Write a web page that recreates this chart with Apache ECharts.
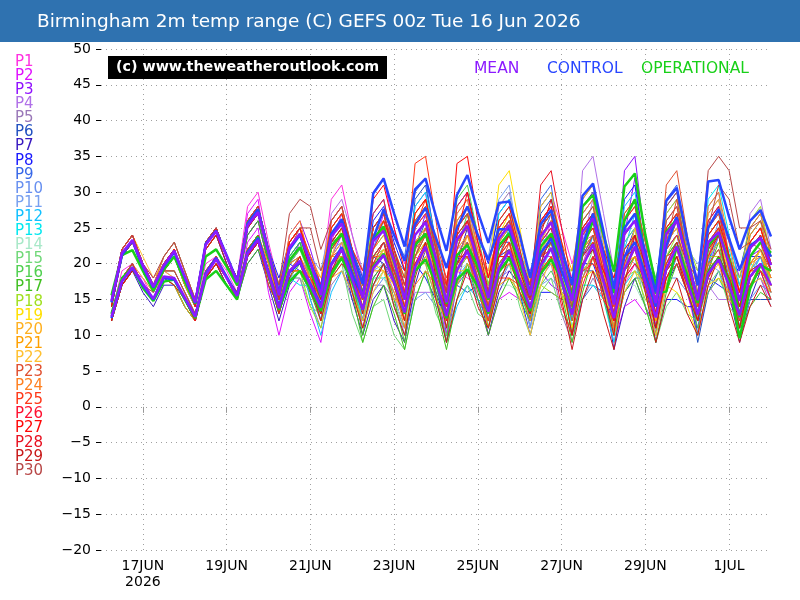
<!DOCTYPE html>
<html>
<head>
<meta charset="utf-8">
<title>Birmingham 2m temp range (C) GEFS</title>
<script src="https://cdn.jsdelivr.net/npm/echarts@6.0.0/dist/echarts.min.js"></script>
<style>
html, body { margin: 0; padding: 0; background: #fff; }
#chart { width: 800px; height: 600px; }
</style>
</head>
<body>
<div id="chart"></div>
<script>
// 6-hourly values, 16 Jun 06z .. 2 Jul 00z (64 steps); Hi = upper line, Lo = lower line of each run
const meanHi = [14.8,21.5,23.3, 19.8,16.8,19.8,21.8, 18.2,14.6,22.6,24.5, 21,17.4,25.3,27.2, 21.5,15.6,22.3,24.2, 20,15.6,23.8,25.6, 20.6,15.2,23.2,24.6, 20.4,15,24,25.8, 20.7,14.6,23.4,25.3, 20.4,15.2,23.5,25.4, 20.8,15.6,23.8,25.8, 20.6,14.8,24.5,26.3, 20.6,14.3,24.2,26, 20.4,14.5,24.2,26, 20.6,14.9,23,24.4, 20,14.8,22.2,23.6, 19.8];
const meanLo = [12.6,17.6,19.5, 17.2,15.1,18.2,18, 15.3,12.6,18.4,20.6, 18,15.5,21.4,23.3, 18.6,13.8,19,20.4, 17,13.9,19.8,22, 17.8,13.6,19.4,21.2, 17.4,13.2,19.5,22.4, 17.6,12.7,19.1,21.8, 17.4,13.3,19.3,21.8, 17.8,13.8,19.7,22.2, 17.6,12.9,19.6,22.7, 17.5,12.4,19.2,22.4, 17.3,12.5,19.3,22.4, 17.5,12.9,18.6,20.6, 17,12.8,18.2,20, 17];
const controlHi = [14.6,21.2,23.2, 19.6,16.7,19.6,21.6, 18.1,14.5,22.8,24.6, 21.2,17.6,25.6,27.6, 21.8,16,22,24, 20.2,16.4,24.2,26.2, 21.5,17.2,29.8,31.9, 27,22.4,30.4,31.9, 26.6,21.8,29.6,32.4, 27.2,22.9,28.5,28.7, 24,18,25.5,27.5, 22,17,29.5,31.2, 24.5,16.5,25,27, 21.5,16,28.8,30.6, 23.5,17,31.5,31.7, 26.5,22,26,27.5, 23.8];
const controlLo = [12.4,17.5,19.4, 17,15,18,17.8, 15.2,12.6,18.6,20.8, 18.2,15.6,21.6,23.6, 18.8,14,18.8,20.2, 17.2,14.3,20,22.3, 18.5,15.5,23.5,27.6, 24,20.4,25.5,27.8, 23.6,19.4,25,28, 24,20.5,24.8,24.8, 21,16,21.5,23.5, 19,15,22.5,27, 21.5,14.5,21,23, 18.5,14,22.5,26.5, 20.5,15,25,27.6, 23.5,19.2,22.5,23.6, 21];
const operHi = [15.6,21.2,21.9, 19,16.2,19.2,21, 17.6,14.4,21,22, 19.6,17,25.6,27.5, 21,15.8,20.5,22.3, 19,15.5,22.5,24.2, 20,15.6,23.5,25.2, 20.2,15,22.6,24.2, 19.8,14.4,21.2,22.6, 19.5,15,22.5,24.3, 20,15.6,22.4,24.2, 20.5,15.2,28,29.6, 24,18.9,30.8,32.6, 24,17,24.5,26.2, 21,14.5,22.5,24.3, 20.5,12.5,21,23, 21.5];
const operLo = [13,18,19.5, 16.6,14.8,17.5,17.8, 15,12.4,17.8,19, 17,15,21.6,23.8, 18.4,13.6,17.5,19, 16.4,13.4,18.6,20.8, 17.4,13.6,19.6,21.4, 17.6,13,19,20.6, 17.2,12.4,17.8,19.2, 16.8,13,18.8,20.8, 17.2,13.4,18.6,20.6, 17.8,13,22,26, 21,15.9,26,29, 21,15.9,16.1,22.5, 18.5,12.8,18.8,20.8, 17.5,9.6,16.5,19.8, 19];

const p1Hi = [15,22,24, 20,17,21,23, 19,15,23,25, 21,18,28,30, 23,17,23,25, 21,17,29,31, 24,18,27,29, 21,14,25,27, 22,18,20,22, 20,19,24,26, 20,15,28,30, 25,20,26,28, 20,13,22,24, 20,16,25,27, 19,12,20,22, 19,16,23,25, 20];
const p1Lo = [13,19,20, 18,15,19,19, 16,13,20,21, 19,16,24,26, 20,15,20,21, 18,15,23,27, 21,16,22,25, 18,12,19,23, 19,16,19,18, 17,17,21,22, 17,13,21,26, 22,18,23,24, 17,11,17,20, 17,14,20,23, 16,10,16,18, 16,14,19,21, 17];
const p2Hi = [14,21,23, 20,18,20,22, 18,14,23,25, 21,17,27,29, 20,13,21,23, 17,12,26,28, 21,16,30,32, 25,20,23,25, 19,15,25,27, 19,13,19,21, 19,19,24,26, 20,15,27,29, 20,12,18,20, 17,16,26,28, 22,18,23,25, 19,14,21,23, 19];
const p2Lo = [12,18,19, 18,16,19,18, 15,12,19,21, 18,15,23,25, 16,10,16,18, 13,9,18,23, 17,13,22,27, 21,17,21,20, 15,12,19,22, 15,10,15,16, 15,16,21,21, 16,12,20,24, 16,9,14,15, 13,13,20,23, 18,15,20,20, 15,11,17,18, 15];
const p3Hi = [15,22,24, 20,17,20,22, 18,15,22,24, 21,18,26,28, 22,15,24,26, 22,17,25,27, 20,12,21,23, 19,15,28,30, 20,10,24,26, 20,14,21,23, 21,19,19,20, 18,16,25,27, 21,14,33,35, 23,11,22,24, 18,12,25,27, 23,18,23,25, 20];
const p3Lo = [13,18,20, 17,15,18,18, 15,13,18,20, 18,16,22,24, 20,14,20,23, 20,16,21,24, 18,11,17,20, 17,14,22,27, 18,9,17,23, 18,13,18,20, 19,18,19,17, 16,15,21,24, 19,13,24,32, 21,10,17,21, 16,11,19,24, 21,17,21,22, 18];
const p4Hi = [14,21,23, 20,17,19,21, 17,14,23,25, 21,17,25,27, 21,15,22,24, 19,15,27,29, 24,19,24,26, 19,12,20,22, 19,17,27,29, 21,13,23,25, 20,16,26,28, 21,14,33,35, 27,19,24,26, 19,13,27,29, 22,15,19,21, 18,16,27,29, 22];
const p4Lo = [12,18,19, 17,15,18,17, 14,12,18,21, 18,15,21,23, 18,13,18,18, 16,13,21,23, 21,17,21,20, 16,10,16,16, 16,15,22,23, 18,11,18,19, 17,14,21,22, 18,12,23,29, 24,17,21,20, 16,11,20,23, 19,13,17,15, 15,14,21,23, 19];
const p5Hi = [15,21,23, 20,17,20,22, 18,15,22,24, 20,17,26,28, 22,17,23,25, 19,14,21,23, 19,17,19,21, 19,18,25,27, 19,13,22,24, 21,19,28,30, 22,15,22,24, 17,12,20,22, 19,17,26,28, 21,15,23,25, 21,19,27,29, 21,15,20,22, 18];
const p5Lo = [13,18,19, 17,15,18,18, 15,13,18,20, 17,15,21,24, 18,14,19,21, 15,11,17,19, 15,14,17,17, 15,15,21,23, 15,10,17,20, 17,16,23,26, 18,12,18,20, 13,9,15,18, 15,14,21,24, 17,12,18,21, 17,16,22,25, 17,12,17,18, 14];
const p6Hi = [14,22,24, 20,17,20,22, 18,15,23,25, 21,18,25,27, 21,15,22,24, 19,13,24,26, 22,18,23,25, 20,15,29,31, 23,14,19,21, 19,16,25,27, 20,12,27,29, 22,15,22,24, 18,11,21,23, 20,17,28,30, 20,10,22,24, 18,12,18,20, 17];
const p6Lo = [12,18,20, 17,15,18,18, 15,13,19,21, 18,16,21,23, 19,14,19,19, 17,12,19,21, 20,17,21,20, 18,14,22,26, 21,13,17,16, 17,15,21,22, 18,11,20,24, 20,14,19,19, 16,10,16,18, 18,16,23,25, 18,9,16,19, 16,11,15,15, 15];
const p7Hi = [14,21,23, 19,16,19,21, 17,14,22,24, 20,17,24,26, 20,14,20,22, 19,16,22,24, 18,12,18,20, 15,11,23,25, 19,14,26,28, 20,12,20,22, 20,18,23,25, 20,15,28,30, 20,10,19,21, 17,13,21,23, 19,15,26,28, 19,11,20,22, 18];
const p7Lo = [12,17,19, 16,14,17,17, 14,12,18,20, 17,15,20,22, 17,12,17,19, 16,14,19,21, 15,10,15,17, 12,9,17,22, 16,12,20,25, 17,10,16,19, 17,16,20,22, 17,13,21,27, 17,8,14,18, 14,11,17,20, 16,13,20,25, 16,9,15,19, 15];
const p8Hi = [15,22,24, 20,17,20,22, 18,14,23,25, 21,18,25,27, 22,18,23,25, 20,17,25,27, 20,15,26,28, 23,19,22,24, 19,16,28,30, 24,20,27,29, 20,13,20,22, 19,18,24,26, 20,15,29,31, 21,12,19,21, 18,17,21,23, 20,19,25,27, 21];
const p8Lo = [13,18,20, 17,15,18,18, 15,12,18,21, 18,16,21,23, 18,15,20,19, 16,14,20,21, 16,12,20,22, 19,16,20,18, 15,13,21,24, 20,17,23,23, 16,10,16,16, 15,15,20,20, 16,12,21,25, 17,9,15,15, 14,14,18,17, 16,16,21,21, 17];
const p9Hi = [14,21,23, 20,17,20,22, 18,15,22,24, 20,17,26,28, 22,16,22,24, 19,15,23,25, 21,17,25,27, 24,21,30,32, 22,13,21,23, 18,14,24,26, 21,17,29,31, 21,12,19,21, 19,18,24,26, 21,17,29,31, 22,14,23,25, 21,17,22,24, 19];
const p9Lo = [12,17,19, 17,15,18,18, 15,13,18,20, 17,15,21,24, 19,14,19,20, 16,13,19,21, 18,15,21,23, 21,19,25,28, 19,11,17,19, 15,12,19,22, 18,15,23,27, 18,10,15,17, 16,16,21,22, 18,15,23,27, 19,12,18,21, 18,15,19,20, 16];
const p10Hi = [15,22,24, 20,17,21,23, 19,15,23,25, 21,18,26,28, 21,14,21,23, 20,16,24,26, 19,12,20,22, 18,14,24,26, 22,17,28,30, 21,12,22,24, 21,18,25,27, 21,15,29,31, 22,12,23,25, 21,16,20,22, 18,14,28,30, 21,11,19,21, 18];
const p10Lo = [13,18,20, 17,15,19,19, 16,13,19,21, 18,16,22,24, 19,13,18,19, 18,15,20,22, 17,11,16,18, 16,13,19,22, 20,16,23,26, 19,11,17,20, 19,17,22,23, 19,14,22,27, 20,11,18,21, 19,15,18,18, 16,13,21,26, 19,10,15,17, 16];
const p11Hi = [14,21,23, 20,17,20,22, 18,14,23,25, 21,17,25,27, 21,17,23,25, 21,19,26,28, 21,16,23,25, 18,13,19,21, 18,17,24,26, 23,21,29,31, 22,14,21,23, 20,19,27,29, 22,16,26,28, 21,15,24,26, 22,20,22,24, 19,16,24,26, 20];
const p11Lo = [12,17,19, 17,15,18,18, 15,12,18,21, 18,15,21,23, 17,14,19,20, 17,16,22,23, 17,13,19,20, 14,10,15,16, 14,14,20,21, 19,18,24,26, 18,11,17,18, 16,16,22,24, 18,13,20,23, 17,12,19,21, 18,17,20,19, 15,13,19,21, 16];
const p12Hi = [15,22,24, 20,17,20,22, 18,15,22,24, 21,18,26,28, 22,16,22,24, 18,12,20,22, 19,17,27,29, 22,15,24,26, 18,11,18,20, 18,16,26,28, 21,15,23,25, 19,14,25,27, 22,17,28,30, 21,13,22,24, 20,16,25,27, 20,14,22,24, 19];
const p12Lo = [13,18,20, 17,15,18,18, 15,13,18,20, 18,16,22,24, 19,14,19,21, 15,10,16,19, 16,15,22,26, 19,13,19,23, 15,9,14,17, 15,14,21,25, 18,13,19,22, 16,12,19,24, 19,15,22,27, 18,11,17,21, 17,14,20,24, 17,12,18,21, 16];
const p13Hi = [14,21,23, 20,17,19,21, 17,14,23,25, 21,17,25,27, 21,14,21,23, 19,15,25,27, 20,13,22,24, 21,18,28,30, 23,16,25,27, 21,15,27,29, 24,18,28,30, 21,12,21,23, 17,10,23,25, 20,15,26,28, 21,13,29,31, 24,17,23,25, 20];
const p13Lo = [12,17,19, 17,15,18,17, 14,12,18,21, 18,15,21,23, 19,13,18,17, 17,14,20,21, 18,12,18,18, 19,17,23,24, 21,15,21,21, 19,14,21,23, 22,17,23,24, 19,11,17,17, 15,9,17,19, 18,14,21,22, 19,12,21,25, 22,16,20,19, 18];
const p14Hi = [15,22,24, 20,17,20,22, 18,15,22,24, 21,18,26,28, 22,16,22,24, 19,14,23,25, 20,16,21,23, 18,13,25,27, 21,15,23,25, 19,14,20,22, 19,16,25,27, 21,15,26,28, 21,14,20,22, 17,12,24,26, 21,17,23,25, 19,13,21,23, 19];
const p14Lo = [13,18,20, 17,15,18,18, 15,13,18,20, 18,16,22,24, 19,14,19,19, 16,12,18,20, 17,14,18,18, 15,11,19,22, 18,13,19,20, 16,12,17,17, 16,14,20,22, 18,13,20,23, 18,12,17,17, 14,10,18,21, 18,15,20,20, 16,11,17,18, 16];
const p15Hi = [14,21,23, 20,17,20,22, 18,14,23,25, 21,17,25,27, 21,17,20,22, 18,16,22,24, 17,12,17,19, 14,11,21,23, 17,13,19,21, 17,15,22,24, 18,13,20,22, 17,14,24,26, 21,17,23,25, 18,12,18,20, 17,15,21,23, 18,15,22,24, 19];
const p15Lo = [12,17,19, 17,15,18,18, 15,12,18,21, 18,15,21,23, 17,14,18,18, 14,13,18,20, 13,9,14,15, 10,8,15,19, 13,10,15,17, 13,12,18,20, 14,10,16,18, 13,11,18,22, 17,14,19,21, 14,9,14,16, 13,12,17,19, 14,12,18,20, 15];
const p16Hi = [15,22,24, 20,17,21,23, 19,15,22,24, 21,18,26,28, 22,17,23,25, 20,16,24,26, 21,16,24,26, 21,16,26,28, 21,15,29,31, 24,17,23,25, 19,14,21,23, 19,15,23,25, 18,12,27,29, 23,18,25,27, 20,13,20,22, 18,15,24,26, 20];
const p16Lo = [13,18,20, 17,15,19,19, 16,13,18,20, 18,16,22,24, 19,15,20,21, 17,14,20,22, 18,14,20,22, 18,14,21,24, 18,13,22,27, 21,15,20,21, 16,12,17,19, 16,13,19,21, 15,10,19,25, 20,16,21,23, 17,11,16,18, 15,13,19,22, 17];
const p17Hi = [14,21,23, 20,17,19,21, 17,14,23,25, 21,17,24,26, 20,14,21,23, 18,13,23,25, 18,10,18,20, 15,9,20,22, 16,9,21,23, 17,11,19,21, 17,13,24,26, 18,10,22,24, 18,12,19,21, 16,10,21,23, 18,13,24,26, 19,11,17,19, 17];
const p17Lo = [12,17,19, 17,15,18,17, 14,12,18,21, 18,15,20,22, 18,13,18,20, 16,12,18,22, 16,9,14,17, 13,8,15,19, 14,8,15,20, 15,10,15,18, 15,12,19,23, 16,9,16,21, 16,11,16,18, 14,9,16,20, 16,12,19,23, 17,10,14,16, 15];
const p18Hi = [15,22,24, 20,17,20,22, 18,15,22,24, 21,18,26,28, 22,17,22,24, 18,14,24,26, 22,19,25,27, 22,18,23,25, 19,15,24,26, 21,17,25,27, 21,16,19,21, 19,19,26,28, 21,15,22,24, 19,16,27,29, 23,19,24,26, 21,18,26,28, 21];
const p18Lo = [13,18,20, 17,15,18,18, 15,13,18,20, 18,16,22,24, 18,14,19,19, 14,11,18,21, 18,16,21,22, 18,15,20,20, 15,12,19,21, 17,14,20,22, 17,13,17,16, 15,16,22,23, 17,12,18,19, 15,13,21,24, 19,16,21,21, 17,15,21,23, 17];
const p19Hi = [14,21,23, 20,17,20,22, 18,14,23,25, 21,17,25,27, 21,16,23,25, 20,16,25,27, 22,17,23,25, 20,15,27,29, 22,16,23,25, 21,18,31,33, 25,17,24,26, 19,13,23,25, 20,15,25,27, 20,14,20,22, 17,12,22,24, 19,15,23,25, 20];
const p19Lo = [12,17,19, 17,15,18,18, 15,12,18,21, 18,15,21,23, 18,14,19,19, 17,14,20,21, 19,15,20,19, 17,13,21,23, 19,14,19,19, 18,16,24,27, 22,15,20,20, 16,11,18,19, 17,13,20,21, 17,12,17,16, 14,10,17,18, 16,13,19,19, 17];
const p20Hi = [15,22,24, 20,17,20,22, 18,15,22,24, 21,18,26,28, 22,15,22,24, 19,14,21,23, 18,13,24,26, 21,16,26,28, 20,12,22,24, 20,15,26,28, 23,17,28,30, 23,15,25,27, 19,11,21,23, 19,15,23,25, 20,14,27,29, 21,13,20,22, 18];
const p20Lo = [13,18,20, 17,15,18,18, 15,13,18,20, 18,16,22,24, 20,14,19,20, 17,13,18,19, 16,12,19,22, 19,15,21,24, 18,11,17,20, 18,14,21,24, 21,16,23,26, 21,14,20,23, 17,10,16,19, 17,14,19,21, 18,13,21,25, 19,12,17,18, 16];
const p21Hi = [14,21,23, 20,17,19,21, 17,14,23,25, 21,17,25,27, 21,15,23,25, 21,18,24,26, 21,16,22,24, 19,14,24,26, 21,17,26,28, 20,13,21,23, 19,16,25,27, 23,19,29,31, 23,16,24,26, 20,14,25,27, 22,17,23,25, 20,16,25,27, 21];
const p21Lo = [12,17,19, 17,15,18,17, 14,12,18,21, 18,15,21,23, 18,13,19,20, 18,16,21,21, 18,14,19,19, 16,12,19,21, 18,15,21,23, 17,11,17,18, 16,14,20,22, 20,17,24,26, 20,14,20,21, 17,12,19,22, 19,15,20,20, 17,14,20,22, 18];
const p22Hi = [15,22,24, 21,18,20,22, 18,15,22,24, 21,18,26,28, 22,17,22,24, 20,18,26,28, 20,14,20,22, 19,17,23,25, 19,15,25,27, 22,19,24,26, 19,13,22,24, 20,17,22,24, 19,16,26,28, 20,13,23,25, 20,17,21,23, 19,16,23,25, 20];
const p22Lo = [13,18,20, 18,16,19,18, 15,13,18,20, 18,16,22,24, 18,14,19,21, 16,15,21,25, 16,11,16,19, 15,14,19,22, 15,12,19,24, 18,16,21,23, 15,10,17,21, 16,14,19,21, 15,13,20,25, 16,10,17,22, 16,14,18,20, 15,13,19,22, 16];
const p23Hi = [14,21,23, 20,17,20,22, 18,14,23,25, 21,17,25,27, 21,16,23,25, 20,16,23,25, 21,17,25,27, 21,15,27,29, 23,18,23,25, 19,14,25,27, 21,16,26,28, 21,14,23,25, 21,17,25,27, 21,15,31,33, 24,16,24,26, 19,13,22,24, 19];
const p23Lo = [12,17,19, 17,15,18,18, 15,12,18,21, 18,15,21,23, 18,14,19,21, 17,14,19,21, 18,15,21,23, 18,13,21,25, 20,16,20,21, 16,12,19,23, 18,14,21,24, 18,12,18,21, 18,15,21,23, 18,13,23,29, 21,14,20,22, 16,11,17,20, 16];
const p24Hi = [15,22,24, 20,17,21,23, 19,15,22,24, 21,18,26,28, 22,16,24,26, 20,14,25,27, 22,17,24,26, 19,12,22,24, 19,14,27,29, 22,15,23,25, 19,13,24,26, 21,16,27,29, 21,12,24,26, 21,15,25,27, 21,14,28,30, 23,16,24,26, 20];
const p24Lo = [13,18,20, 17,15,19,19, 16,13,18,20, 18,16,22,24, 20,15,20,21, 18,13,20,22, 20,16,21,21, 17,11,17,19, 17,13,21,24, 20,14,19,20, 17,12,19,21, 19,15,22,24, 19,11,18,21, 19,14,20,22, 19,13,21,25, 21,15,20,21, 18];
const p25Hi = [14,21,23, 20,17,20,22, 18,14,23,25, 21,18,26,28, 22,16,23,25, 21,17,26,28, 22,16,25,27, 22,18,34,35, 26,17,25,27, 20,14,22,24, 20,17,26,28, 21,15,24,26, 21,16,27,29, 23,17,26,28, 21,14,25,27, 21,16,23,25, 20];
const p25Lo = [12,17,19, 17,15,18,18, 15,12,18,21, 18,16,22,24, 19,14,19,19, 18,15,21,22, 19,14,20,21, 19,16,25,29, 23,15,21,21, 17,12,18,18, 17,15,21,22, 18,13,19,20, 18,14,21,23, 20,15,21,22, 18,12,19,21, 18,14,19,19, 17];
const p26Hi = [15,22,24, 20,17,20,22, 18,15,23,25, 21,17,25,27, 21,17,22,24, 20,17,24,26, 22,19,27,29, 22,16,25,27, 21,17,28,30, 23,18,25,27, 21,16,23,25, 18,13,23,25, 19,15,26,28, 21,16,22,24, 20,18,26,28, 21,15,21,23, 19];
const p26Lo = [13,18,20, 17,15,18,18, 15,13,19,21, 18,15,21,23, 17,14,19,20, 16,14,20,22, 18,16,22,25, 18,13,20,23, 17,14,22,26, 19,15,21,23, 17,13,19,21, 14,10,17,21, 15,12,20,24, 17,13,18,20, 16,15,21,24, 17,12,17,19, 15];
const p27Hi = [14,21,23, 20,17,20,22, 18,15,22,24, 21,18,26,28, 22,16,23,25, 20,16,25,27, 22,17,29,31, 25,19,27,29, 22,16,34,35, 26,18,24,26, 21,17,26,28, 21,15,25,27, 22,18,25,27, 20,13,24,26, 20,15,24,26, 21,16,23,25, 20];
const p27Lo = [12,17,19, 17,15,18,18, 15,13,18,20, 18,16,22,24, 19,14,19,20, 17,14,20,22, 19,15,23,26, 22,17,23,24, 19,14,24,30, 23,16,21,21, 18,15,21,23, 18,13,20,22, 19,16,21,22, 17,11,18,21, 17,13,19,21, 18,14,19,20, 17];
const p28Hi = [15,22,24, 20,17,20,22, 18,14,23,25, 21,17,25,27, 21,15,22,24, 19,13,22,24, 20,15,25,27, 21,15,24,26, 20,13,24,26, 21,16,26,28, 22,16,31,33, 25,17,25,27, 20,13,22,24, 20,15,25,27, 20,13,23,25, 20,14,22,24, 19];
const p28Lo = [13,18,20, 17,15,18,18, 15,12,18,21, 18,15,21,23, 19,14,19,20, 17,12,18,20, 18,14,20,23, 19,14,20,22, 18,12,19,22, 19,15,21,24, 20,15,24,29, 23,16,21,23, 18,12,18,20, 18,14,20,23, 18,12,18,21, 18,13,18,20, 17];
const p29Hi = [14,21,23, 20,17,19,21, 18,15,22,24, 20,17,25,27, 21,15,22,24, 19,15,23,25, 19,13,21,23, 17,12,24,26, 18,11,20,22, 17,13,22,24, 19,15,25,27, 18,10,20,22, 16,10,25,27, 19,11,19,21, 16,12,22,24, 17,11,18,20, 17];
const p29Lo = [12,17,19, 17,15,18,17, 15,13,18,20, 17,15,21,23, 18,13,18,21, 16,13,19,22, 16,11,17,20, 14,10,18,23, 15,9,15,19, 14,11,17,21, 16,13,20,24, 15,8,15,19, 13,8,17,24, 16,9,15,18, 13,10,17,21, 14,9,14,17, 14];
const p30Hi = [15,22,24, 20,18,21,23, 19,15,23,25, 21,18,26,28, 22,17,27,29, 28,22,26,28, 22,17,25,27, 22,17,26,28, 22,16,25,27, 21,16,24,26, 21,17,25,27, 21,16,26,28, 21,15,24,26, 21,16,28,30, 23,17,33,35, 33,25,25,26, 22];
const p30Lo = [13,18,20, 17,16,19,19, 16,13,19,21, 18,16,22,24, 19,15,22,25, 25,19,23,24, 19,15,21,23, 19,15,21,24, 19,14,20,23, 18,14,20,22, 18,15,21,23, 18,14,21,24, 18,13,19,22, 18,14,22,26, 20,15,25,31, 29,22,23,22, 19];

const memberNames = ['P1','P2','P3','P4','P5','P6','P7','P8','P9','P10','P11','P12','P13','P14','P15',
  'P16','P17','P18','P19','P20','P21','P22','P23','P24','P25','P26','P27','P28','P29','P30'];
const memberColors = ['#ff30e0','#e010ff','#9010ff','#b070e8','#9a78b8','#2050c0','#3818c0','#1818ff','#3868e8','#6890f0',
  '#78a0f0','#10c0ff','#00e8f0','#a8e8c8','#70d878','#50d050','#40c020','#a0e020','#ffe000','#ffb020',
  '#ffa000','#ffc030','#e05030','#ff8020','#ff3818','#ff1030','#ff0808','#e81020','#c81818','#b84848'];
const dayTicks = ['17JUN\n2026','19JUN','21JUN','23JUN','25JUN','27JUN','29JUN','1JUL'];

const perturbHi = [p1Hi,p2Hi,p3Hi,p4Hi,p5Hi,p6Hi,p7Hi,p8Hi,p9Hi,p10Hi,p11Hi,p12Hi,p13Hi,p14Hi,p15Hi,
  p16Hi,p17Hi,p18Hi,p19Hi,p20Hi,p21Hi,p22Hi,p23Hi,p24Hi,p25Hi,p26Hi,p27Hi,p28Hi,p29Hi,p30Hi];
const perturbLo = [p1Lo,p2Lo,p3Lo,p4Lo,p5Lo,p6Lo,p7Lo,p8Lo,p9Lo,p10Lo,p11Lo,p12Lo,p13Lo,p14Lo,p15Lo,
  p16Lo,p17Lo,p18Lo,p19Lo,p20Lo,p21Lo,p22Lo,p23Lo,p24Lo,p25Lo,p26Lo,p27Lo,p28Lo,p29Lo,p30Lo];

// categories every 6h from 16 Jun 00z to 2 Jul 00z
const times = [];
for (let h = 0; h <= 384; h += 6) {
  const d = new Date(Date.UTC(2026, 5, 16) + h * 3600e3);
  times.push(d.getUTCDate() + '/' + (d.getUTCMonth() + 1) + ' ' + String(d.getUTCHours()).padStart(2, '0') + 'z');
}
const isTick = (idx) => idx % 8 === 4;

function line(name, values, color, width, z) {
  return {
    name: name,
    type: 'line',
    data: ['-'].concat(values),
    symbol: 'none',
    silent: true,
    z: z,
    lineStyle: { color: color, width: width },
    emphasis: { disabled: true }
  };
}

const series = [];
for (let k = 0; k < memberNames.length; k++) {
  series.push(line(memberNames[k], perturbHi[k], memberColors[k], 1, 2));
  series.push(line(memberNames[k], perturbLo[k], memberColors[k], 1, 2));
}
series.push(line('OPERATIONAL', operLo, '#18d018', 2.5, 4));
series.push(line('OPERATIONAL', operHi, '#18d018', 2.5, 4));
series.push(line('CONTROL', controlLo, '#2846ff', 2.5, 5));
series.push(line('CONTROL', controlHi, '#2846ff', 2.5, 5));
series.push(line('MEAN', meanLo, '#8c1aff', 2.5, 6));
series.push(line('MEAN', meanHi, '#8c1aff', 2.5, 6));

const font = '"DejaVu Sans", sans-serif';
const graphics = [
  { type: 'rect', shape: { x: 0, y: 0, width: 800, height: 42 }, style: { fill: '#2f72b0' }, z: 10 },
  { type: 'text', x: 37, y: 22, z: 11, style: { text: 'Birmingham 2m temp range (C) GEFS 00z Tue 16 Jun 2026',
      fill: '#fff', font: '18.5px ' + font, textVerticalAlign: 'middle' } },
  { type: 'rect', shape: { x: 108, y: 56, width: 279, height: 23 }, style: { fill: '#000' }, z: 10 },
  { type: 'text', x: 247.5, y: 67.5, z: 11, style: { text: '(c) www.theweatheroutlook.com', fill: '#fff',
      font: 'bold 14.3px ' + font, textAlign: 'center', textVerticalAlign: 'middle' } },
  { type: 'text', x: 474, y: 69, z: 11, style: { text: 'MEAN', fill: '#8c1aff', font: '15.5px ' + font, textVerticalAlign: 'middle' } },
  { type: 'text', x: 547, y: 69, z: 11, style: { text: 'CONTROL', fill: '#2846ff', font: '15.5px ' + font, textVerticalAlign: 'middle' } },
  { type: 'text', x: 641, y: 69, z: 11, style: { text: 'OPERATIONAL', fill: '#18d018', font: '15.5px ' + font, textVerticalAlign: 'middle' } }
];
memberNames.forEach(function (name, k) {
  graphics.push({ type: 'text', x: 15, y: 62 + k * 14.1, z: 11,
    style: { text: name, fill: memberColors[k], font: '15px ' + font, textVerticalAlign: 'middle' } });
});

const chart = echarts.init(document.getElementById('chart'));
chart.setOption({
  animation: false,
  backgroundColor: '#fff',
  grid: { left: 101, right: 29, top: 49, bottom: 50 },
  xAxis: {
    type: 'category',
    boundaryGap: false,
    data: times,
    axisLine: { show: false },
    axisTick: { show: true, interval: isTick, length: 6, lineStyle: { color: '#999' } },
    axisLabel: {
      interval: isTick,
      formatter: (value, idx) => dayTicks[(idx - 4) / 8],
      color: '#000', fontFamily: 'DejaVu Sans', fontSize: 14, lineHeight: 16, margin: 8
    },
    splitLine: { show: true, interval: isTick, lineStyle: { color: '#a0a0a0', width: 1, type: [1, 4] } }
  },
  yAxis: {
    type: 'value',
    min: -20, max: 50, interval: 5,
    axisLine: { show: false },
    axisTick: { show: true, length: 5, lineStyle: { color: '#000' } },
    axisLabel: {
      formatter: (v) => String(v).replace('-', '\u2212'),
      color: '#000', fontFamily: 'DejaVu Sans', fontSize: 14, margin: 10
    },
    splitLine: { show: true, lineStyle: { color: '#a0a0a0', width: 1, type: [1, 4] } }
  },
  graphic: graphics,
  series: series
});
</script>
</body>
</html>
